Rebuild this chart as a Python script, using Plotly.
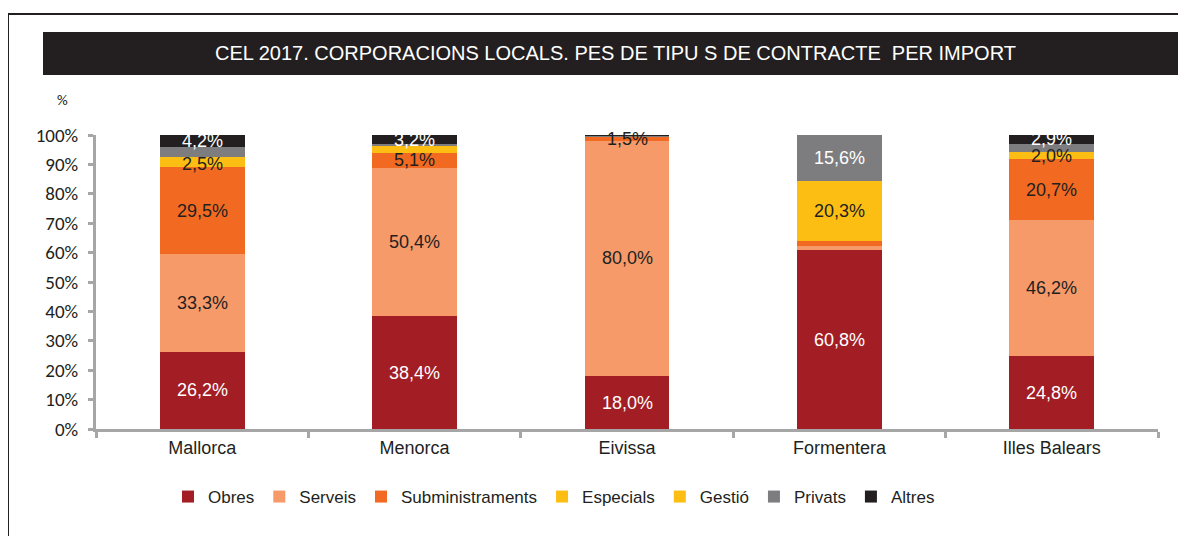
import plotly.graph_objects as go

categories = ["Mallorca", "Menorca", "Eivissa", "Formentera", "Illes Balears"]
series_names = ["Obres", "Serveis", "Subministraments", "Especials", "Gestió", "Privats", "Altres"]

obres = [26.2, 38.4, 18.0, 60.8, 24.8]
serveis = [33.3, 50.4, 80.0, 1.4, 46.2]
subministraments = [29.5, 5.1, 1.5, 1.9, 20.7]
especials = [2.5, 1.9, 0.0, 20.3, 2.0]
gestio = [1.0, 0.6, 0.0, 0.0, 0.6]
privats = [3.3, 0.4, 0.3, 15.6, 2.8]
altres = [4.2, 3.2, 0.2, 0.0, 2.9]

y_tick_values = [0, 10, 20, 30, 40, 50, 60, 70, 80, 90, 100]
y_tick_labels = ["0%", "10%", "20%", "30%", "40%", "50%", "60%", "70%", "80%", "90%", "100%"]

# which values carry a data label
label_obres = [1, 1, 1, 1, 1]
label_serveis = [1, 1, 1, 0, 1]
label_subm = [1, 1, 1, 0, 1]
label_especials = [1, 0, 0, 1, 1]
label_gestio = [0, 0, 0, 0, 0]
label_privats = [0, 0, 0, 1, 0]
label_altres = [1, 1, 0, 0, 1]

colors = ["#A31D24", "#F79A6A", "#F26A22", "#FDBE14", "#FDBE14", "#7D7D80", "#231F20"]
label_colors = ["white", "#231F20", "#231F20", "#231F20", "#231F20", "white", "white"]

values = [obres, serveis, subministraments, especials, gestio, privats, altres]
labels = [label_obres, label_serveis, label_subm, label_especials, label_gestio, label_privats, label_altres]

OFF = 8  # page body margin
W, H = 1186 - OFF, 536 - OFF
# plot area in reference pixels
PX0, PX1, PY0, PY1 = 96, 1158, 135, 429
L, R, T, B = PX0 - OFF, 1186 - PX1, PY0 - OFF, 536 - PY1
PW = PX1 - PX0
PH = PY1 - PY0


def px_x(px):
    return (px - PX0) / PW


def px_y(py):
    return (PY1 - py) / PH


NARROW = "Liberation Sans, Arial, sans-serif"
TICKF = "Carlito, Lato, sans-serif"

fig = go.Figure()
for name, vals, col in zip(series_names, values, colors):
    fig.add_trace(go.Bar(
        name=name, x=categories, y=vals, marker=dict(color=col, line=dict(width=0)),
        width=0.4, hoverinfo="skip",
    ))

annotations = []
base = [0.0] * len(categories)
for vals, lab, tcol in zip(values, labels, label_colors):
    for i, c in enumerate(categories):
        if lab[i]:
            annotations.append(dict(
                x=c, y=base[i] + vals[i] / 2, xref="x", yref="y",
                text=f"{vals[i]:.1f}%".replace(".", ","), showarrow=False,
                font=dict(family=NARROW, size=18, color=tcol),
            ))
        base[i] += vals[i]

annotations.append(dict(
    x=px_x(615), y=px_y(53), xref="paper", yref="paper", xanchor="center", yanchor="middle",
    text="CEL 2017. CORPORACIONS LOCALS. PES DE TIPU S DE CONTRACTE  PER IMPORT",
    showarrow=False, font=dict(family=NARROW, size=20, color="white"),
))
annotations.append(dict(
    x=px_x(62), y=px_y(100), xref="paper", yref="paper", xanchor="center", yanchor="middle",
    text="%", showarrow=False, font=dict(family=TICKF, size=15, color="#231F20"),
))

shapes = [
    dict(type="rect", xref="paper", yref="paper",
         x0=px_x(43), x1=px_x(1200), y0=px_y(75), y1=px_y(32),
         fillcolor="#231F20", line=dict(width=0), layer="below"),
    dict(type="rect", xref="paper", yref="paper",
         x0=px_x(8), x1=px_x(1200), y0=px_y(545), y1=px_y(14),
         fillcolor="rgba(0,0,0,0)", line=dict(color="#231F20", width=2)),
]

fig.update_layout(
    width=W, height=H,
    margin=dict(l=L, r=R, t=T, b=B, autoexpand=False),
    barmode="stack",
    paper_bgcolor="white", plot_bgcolor="white",
    annotations=annotations, shapes=shapes,
    showlegend=True,
    legend=dict(orientation="h", x=px_x(554), xanchor="center", y=px_y(497), yanchor="middle",
                font=dict(family=NARROW, size=17, color="#231F20"),
                itemwidth=30, tracegroupgap=0, traceorder="normal"),
    xaxis=dict(
        showline=True, linecolor="#A6A6A6", linewidth=3,
        ticks="outside", tickson="boundaries", ticklen=6, tickcolor="#A6A6A6", tickwidth=3,
        tickfont=dict(family=NARROW, size=18, color="#231F20"),
        showgrid=False, zeroline=False, fixedrange=True,
    ),
    yaxis=dict(
        range=[0, 100], tickmode="array", tickvals=y_tick_values, ticktext=y_tick_labels,
        showline=True, linecolor="#A6A6A6", linewidth=3,
        ticks="outside", ticklen=5, tickcolor="#A6A6A6", tickwidth=3,
        tickfont=dict(family=TICKF, size=19, color="#231F20"),
        ticklabelstandoff=6,
        showgrid=False, zeroline=False, fixedrange=True,
    ),
    bargap=0.6,
)

fig.write_html("out.html")
